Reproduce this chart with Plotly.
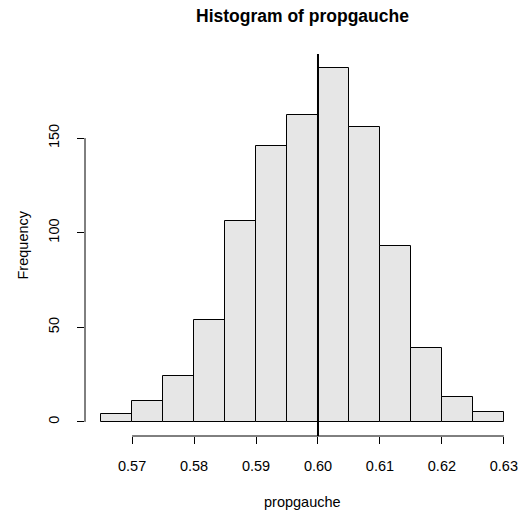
import plotly.graph_objects as go

# Histogram of propgauche: bin edges and counts
bin_edges = [0.565, 0.570, 0.575, 0.580, 0.585, 0.590, 0.595, 0.600,
             0.605, 0.610, 0.615, 0.620, 0.625, 0.630]
counts = [4, 11, 24, 54, 106, 146, 162, 187, 156, 93, 39, 13, 5]
x_ticks = [0.57, 0.58, 0.59, 0.60, 0.61, 0.62, 0.63]
x_tick_labels = ["0.57", "0.58", "0.59", "0.60", "0.61", "0.62", "0.63"]
y_ticks = [0, 50, 100, 150]
ref_value = 0.60

W, H = 520, 510
L, R, T, B = 84.5, 0, 53.5, 73.5

centers = [(a + b) / 2 for a, b in zip(bin_edges[:-1], bin_edges[1:])]
widths = [b - a for a, b in zip(bin_edges[:-1], bin_edges[1:])]

xspan = bin_edges[-1] - bin_edges[0]
xr = [bin_edges[0] - 0.04 * xspan, bin_edges[-1] + 0.04 * xspan]
ymax = max(counts)
yr = [-0.04 * ymax, ymax * 1.04]

font = "Liberation Sans, Arial, sans-serif"
fs = 14.5

fig = go.Figure()
fig.add_trace(go.Bar(
    x=centers, y=counts, width=widths,
    marker=dict(color="#E6E6E6", line=dict(color="black", width=1)),
    hoverinfo="x+y",
))

fig.update_layout(
    width=W, height=H,
    margin=dict(l=L, r=R, t=T, b=B, pad=0),
    plot_bgcolor="white", paper_bgcolor="white",
    showlegend=False,
    font=dict(family=font, size=fs, color="black"),
    xaxis=dict(range=xr, showgrid=False, zeroline=False, showline=False,
               tickvals=x_ticks, ticktext=x_tick_labels,
               ticks="outside", ticklen=7, tickwidth=1, tickcolor="black",
               ticklabelstandoff=10, tickfont=dict(size=fs)),
    yaxis=dict(range=yr, showgrid=False, zeroline=False, showline=False,
               tickvals=y_ticks, ticks="outside", ticklen=7, tickwidth=1,
               tickcolor="black", tickangle=-90, ticklabelstandoff=12,
               tickfont=dict(size=fs)),
    bargap=0,
)

# axis lines spanning only the tick range
fig.add_shape(type="line", xref="x", yref="paper",
              x0=x_ticks[0], x1=x_ticks[-1], y0=0, y1=0,
              line=dict(color="black", width=1))
fig.add_shape(type="line", xref="paper", yref="y",
              x0=0, x1=0, y0=y_ticks[0], y1=y_ticks[-1],
              line=dict(color="black", width=1))

# reference line
fig.add_shape(type="line", xref="x", yref="paper",
              x0=ref_value, x1=ref_value, y0=0, y1=1,
              line=dict(color="black", width=2))

# titles
fig.add_annotation(text="<b>Histogram of propgauche</b>", xref="paper", yref="paper",
                   x=0.5, y=1, yshift=(T - 15), yanchor="middle", showarrow=False,
                   font=dict(size=17.5, family=font))
fig.add_annotation(text="propgauche", xref="paper", yref="paper",
                   x=0.5, y=0, yshift=-(502 - (H - B)), yanchor="middle",
                   showarrow=False, font=dict(size=fs, family=font))
fig.add_annotation(text="Frequency", xref="paper", yref="paper",
                   x=0, xshift=-(L - 22), y=(H - B - 245) / (H - T - B),
                   xanchor="center", yanchor="middle", textangle=-90,
                   showarrow=False, font=dict(size=fs, family=font))

fig.write_html("out.html")
